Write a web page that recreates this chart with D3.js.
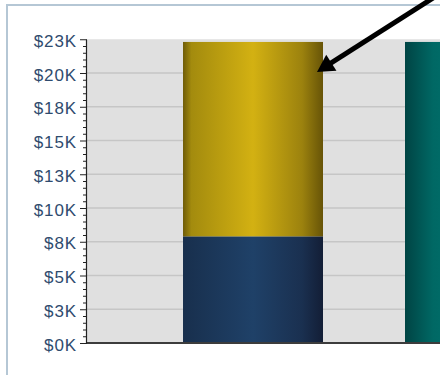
<!DOCTYPE html>
<html>
<head>
<meta charset="utf-8">
<script src="https://cdn.jsdelivr.net/npm/d3@7"></script>
<style>
  html, body { margin: 0; padding: 0; background: #ffffff; }
  svg { display: block; }
</style>
</head>
<body>
<svg id="chart" width="440" height="375"></svg>
<script>
// Stacked revenue columns
const categories = ["Region A", "Region B"];
const baseValues = [7900, 0];
const upperValues = [14400, 0];
const otherValues = [0, 22300];
const yTickValues = [0, 2500, 5000, 7500, 10000, 12500, 15000, 17500, 20000, 22500];
const yTickLabels = ["$0K", "$3K", "$5K", "$8K", "$10K", "$13K", "$15K", "$18K", "$20K", "$23K"];

const svg = d3.select("#chart");

// outer panel frame
svg.append("rect")
  .attr("x", 7).attr("y", 5)
  .attr("width", 520).attr("height", 420)
  .attr("fill", "#ffffff")
  .attr("stroke", "#b5c7d5")
  .attr("stroke-width", 2);

const plot = { left: 86, top: 39.25, bottom: 343, right: 642 };

const x = d3.scaleBand()
  .domain(categories)
  .range([plot.left, plot.right])
  .paddingInner(0.3694)
  .paddingOuter(0.437);

const y = d3.scaleLinear()
  .domain([0, 22500])
  .range([plot.bottom, plot.top]);

// gradients
const defs = svg.append("defs");
function barGradient(id, stops) {
  const g = defs.append("linearGradient").attr("id", id)
    .attr("x1", "0%").attr("x2", "100%").attr("y1", "0%").attr("y2", "0%");
  stops.forEach(([o, c]) => g.append("stop").attr("offset", o).attr("stop-color", c));
}
barGradient("gradBase", [["0%", "#182f4d"], ["50%", "#1f4168"], ["85%", "#1a3050"], ["100%", "#131e36"]]);
barGradient("gradUpper", [["0%", "#6f5c08"], ["6%", "#a38b0e"], ["50%", "#d3b112"], ["85%", "#9c820e"], ["100%", "#675407"]]);
barGradient("gradOther", [["0%", "#004444"], ["20%", "#006864"], ["50%", "#00736f"], ["85%", "#005a58"], ["100%", "#003c3c"]]);

// plot background
svg.append("rect")
  .attr("x", plot.left).attr("y", plot.top)
  .attr("width", plot.right - plot.left).attr("height", plot.bottom - plot.top)
  .attr("fill", "#e0e0e0");

// grid lines
svg.append("g").selectAll("line")
  .data(yTickValues.filter(v => v > 0 && v < 22500))
  .join("line")
  .attr("x1", plot.left).attr("x2", plot.right)
  .attr("y1", d => y(d)).attr("y2", d => y(d))
  .attr("stroke", "#c6c6c6")
  .attr("stroke-width", 1.5);

// stacked bars
const rows = categories.map((c, i) => ({ cat: c, base: baseValues[i], upper: upperValues[i], other: otherValues[i] }));
const stack = d3.stack().keys(["base", "upper", "other"])(rows);
const fills = { base: "url(#gradBase)", upper: "url(#gradUpper)", other: "url(#gradOther)" };

svg.append("g").selectAll("g")
  .data(stack)
  .join("g")
  .attr("fill", d => fills[d.key])
  .selectAll("rect")
  .data(d => d.filter(s => s[1] - s[0] > 0))
  .join("rect")
  .attr("x", d => x(d.data.cat))
  .attr("width", x.bandwidth())
  .attr("y", d => y(d[1]))
  .attr("height", d => y(d[0]) - y(d[1]));

// x baseline
svg.append("line")
  .attr("x1", plot.left).attr("x2", plot.right)
  .attr("y1", plot.bottom).attr("y2", plot.bottom)
  .attr("stroke", "#3c3c3c")
  .attr("stroke-width", 2);

// minor ticks
const minorTicks = d3.range(0, 22500 + 1, 500).filter(v => !yTickValues.includes(v));
svg.append("g")
  .attr("transform", `translate(${plot.left},0)`)
  .call(d3.axisLeft(y).tickValues(minorTicks).tickSize(3).tickFormat(""))
  .call(g => g.select(".domain").remove())
  .call(g => g.selectAll("line").attr("stroke", "#222").attr("x2", -3).attr("x1", 1));

// y axis
const yAxis = svg.append("g")
  .attr("transform", `translate(${plot.left},0)`)
  .call(d3.axisLeft(y)
    .tickValues(yTickValues)
    .tickFormat((d, i) => yTickLabels[i])
    .tickSize(6)
    .tickPadding(3)
    .tickSizeOuter(0));
yAxis.select(".domain").attr("stroke", "#222").attr("stroke-width", 1.2);
yAxis.selectAll(".tick line").attr("stroke", "#222").attr("x1", 1);
yAxis.selectAll(".tick text")
  .attr("font-family", "Liberation Sans, Arial, sans-serif")
  .attr("font-size", 17)
  .attr("letter-spacing", "0.9px")
  .attr("fill", "#2f4b6e")
  .attr("dy", "0.42em");

// annotation arrow pointing at the top of the first column
const tipX = x(categories[0]) + x.bandwidth() - 6;
const tipY = y(baseValues[0] + upperValues[0]) + 30;
const dirX = 113, dirY = -72;
const len = Math.hypot(dirX, dirY);
const ux = dirX / len, uy = dirY / len;
const headLen = 17, headHalf = 9.5;
const baseX = tipX + ux * headLen, baseY = tipY + uy * headLen;
svg.append("line")
  .attr("x1", baseX - ux * 2).attr("y1", baseY - uy * 2)
  .attr("x2", tipX + ux * 160).attr("y2", tipY + uy * 160)
  .attr("stroke", "#000")
  .attr("stroke-width", 5);
svg.append("path")
  .attr("d", `M${tipX},${tipY}L${baseX - uy * headHalf},${baseY + ux * headHalf}L${baseX + uy * headHalf},${baseY - ux * headHalf}Z`)
  .attr("fill", "#000");
</script>
</body>
</html>
